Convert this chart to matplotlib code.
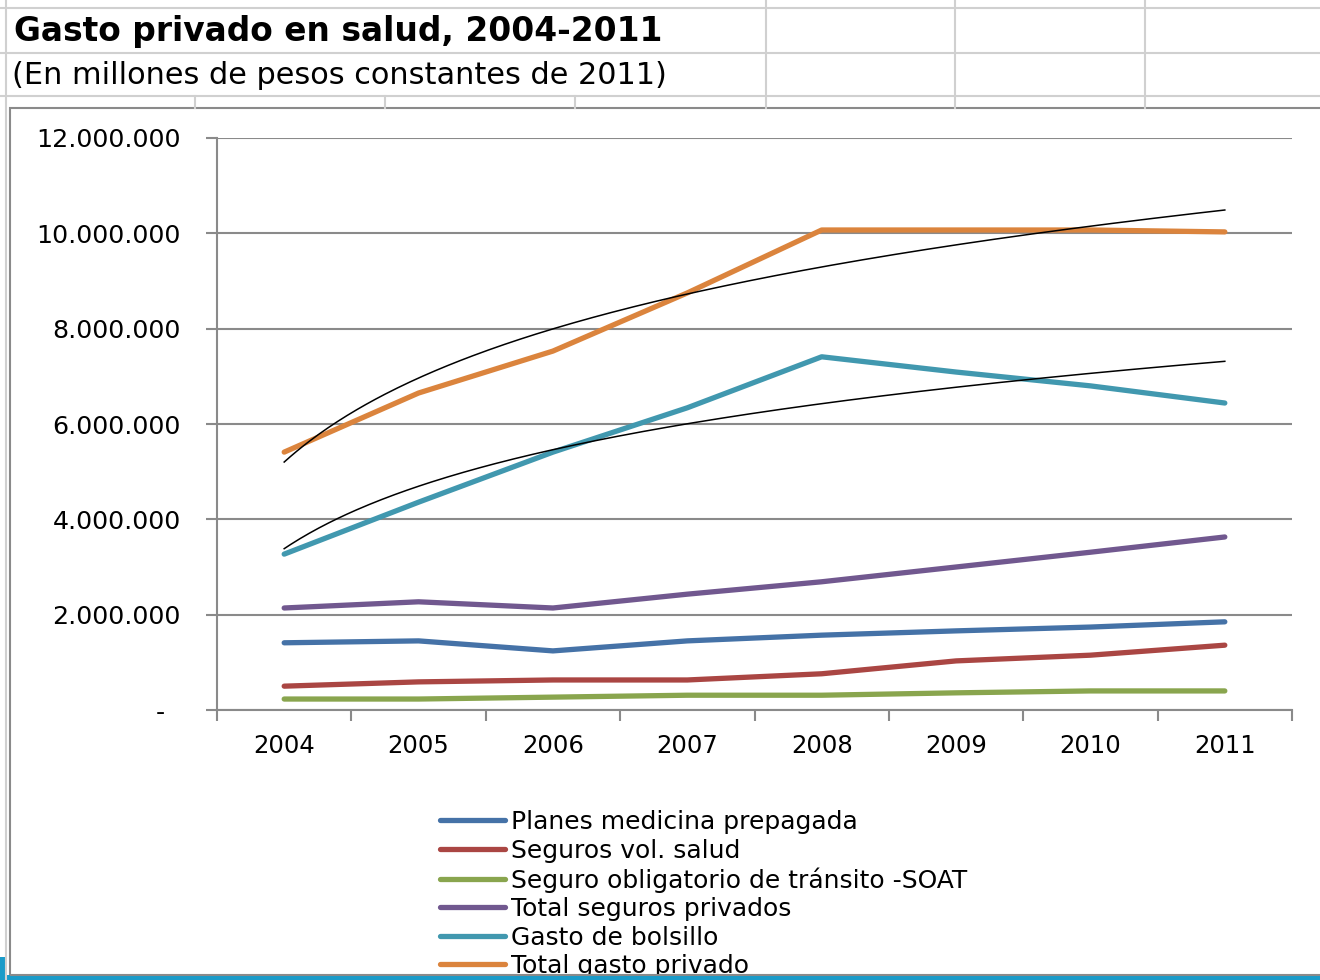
import numpy as np
import matplotlib
matplotlib.use("Agg")
import matplotlib.pyplot as plt
from matplotlib.lines import Line2D
from matplotlib.patches import Rectangle

plt.rcParams['font.family'] = ['DejaVu Sans']

# Data (millones de pesos constantes de 2011)
years = ['2004', '2005', '2006', '2007', '2008', '2009', '2010', '2011']
prepagada = [1410000, 1450000, 1240000, 1450000, 1570000, 1660000, 1740000, 1850000]
seguros_vol = [500000, 590000, 630000, 630000, 760000, 1030000, 1150000, 1360000]
soat = [230000, 230000, 270000, 310000, 310000, 360000, 400000, 400000]
total_seguros = [2140000, 2270000, 2140000, 2430000, 2690000, 3000000, 3310000, 3630000]
bolsillo = [3270000, 4360000, 5410000, 6340000, 7410000, 7090000, 6800000, 6440000]
total_gasto = [5410000, 6650000, 7530000, 8750000, 10070000, 10070000, 10070000, 10030000]

series = [
    ('Planes medicina prepagada', prepagada, '#4572A7'),
    ('Seguros vol. salud', seguros_vol, '#AA4643'),
    ('Seguro obligatorio de tránsito -SOAT', soat, '#89A54E'),
    ('Total seguros privados', total_seguros, '#71588F'),
    ('Gasto de bolsillo', bolsillo, '#4198AF'),
    ('Total gasto privado', total_gasto, '#DB843D'),
]

W, H = 1320, 980
fig = plt.figure(figsize=(W / 100, H / 100), dpi=100)


def fx(px):
    return px / W


def fy(py):
    return 1 - py / H


# spreadsheet grid behind the chart
grid_c = '#d0d0d0'
for y in [8, 53, 96]:
    fig.add_artist(Line2D([0, 1], [fy(y), fy(y)], color=grid_c, lw=1.5))
for x in [766, 955, 1145]:
    fig.add_artist(Line2D([fx(x), fx(x)], [fy(0), fy(108)], color=grid_c, lw=1.5))
for x in [195, 385, 575]:
    fig.add_artist(Line2D([fx(x), fx(x)], [fy(96), fy(108)], color=grid_c, lw=1.5))
fig.add_artist(Line2D([fx(6), fx(6)], [fy(0), fy(980)], color=grid_c, lw=1.5))

fig.text(fx(14), fy(32), 'Gasto privado en salud, 2004-2011', fontsize=23.7,
         fontweight='bold', va='center', ha='left')
fig.text(fx(12), fy(76), '(En millones de pesos constantes de 2011)', fontsize=21.9,
         va='center', ha='left')

# bottom tab strip
fig.add_artist(Rectangle((0, 0), 1, fy(975), color='#1a9bc9', lw=0))
fig.add_artist(Rectangle((0, 0), fx(6), fy(957), color='#1a9bc9', lw=0))

# chart border
fig.add_artist(Rectangle((fx(10), fy(975)), 1, fy(108) - fy(975), fill=False,
                         ec='#8a8a8a', lw=1.5))

ax = fig.add_axes([fx(217), fy(710), fx(1292) - fx(217), fy(138) - fy(710)])
x = np.arange(1, len(years) + 1)

handles = []
for name, vals, col in series:
    h, = ax.plot(x, vals, color=col, lw=3.8, solid_capstyle='round',
                 solid_joinstyle='round', zorder=3, label=name)
    handles.append(h)

# logarithmic trendlines (Excel style) for the two top series
xs = np.linspace(1, len(years), 300)
for vals in [total_gasto, bolsillo]:
    a, b = np.polyfit(np.log(x), vals, 1)
    ax.plot(xs, a * np.log(xs) + b, color='black', lw=1.1, zorder=4)

ax.set_xlim(0.5, len(years) + 0.5)
ax.set_ylim(0, 12000000)
ax.set_xticks(x)
ax.set_xticklabels(years, fontsize=17.5)
ax.set_xticks(np.arange(0.5, len(years) + 1), minor=True)
ax.tick_params(axis='x', which='major', length=0, pad=17)
ax.tick_params(axis='x', which='minor', length=8, width=1.5, color='#8a8a8a')

yt = np.arange(0, 12000001, 2000000)
ax.set_yticks(yt)
ax.set_yticklabels(['-  '] + [f'{v:,.0f}'.replace(',', '.') for v in yt[1:]], fontsize=18.2)
ax.tick_params(axis='y', length=8, width=1.5, color='#8a8a8a', pad=18)

ax.grid(axis='y', color='#8a8a8a', lw=1.5, zorder=0)
ax.set_axisbelow(True)
for s in ['top', 'right']:
    ax.spines[s].set_visible(False)
ax.spines['left'].set_color('#8a8a8a')
ax.spines['left'].set_linewidth(1.5)
ax.spines['bottom'].set_color('#8a8a8a')
ax.spines['bottom'].set_linewidth(1.5)

leg = ax.legend(handles=handles, loc='upper left', bbox_to_anchor=(fx(440), fy(810)),
                bbox_transform=fig.transFigure, frameon=False, fontsize=18,
                handlelength=2.6, handletextpad=0.24, labelspacing=0.18,
                borderaxespad=0, borderpad=0)
for line in leg.get_lines():
    line.set_linewidth(3.8)

fig.savefig('out.png', dpi=100)
